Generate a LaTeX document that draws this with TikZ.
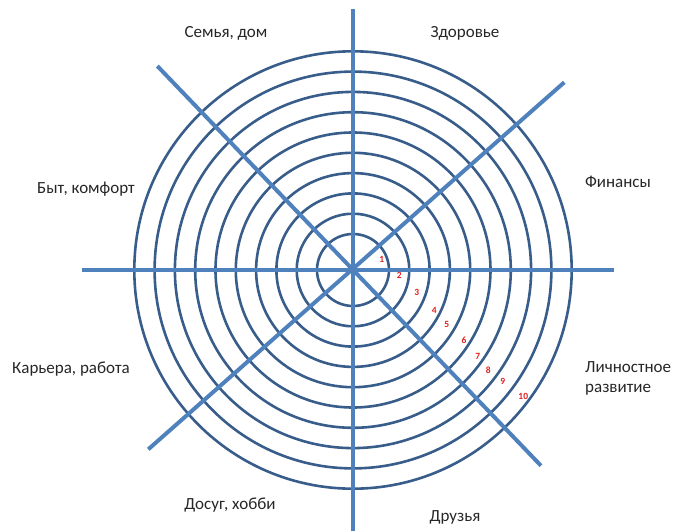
\documentclass[tikz,border=0pt]{standalone}
\usepackage{fontspec}
\setmainfont{Carlito}
\usepackage{tikz}
\definecolor{cSpoke}{HTML}{4F81BD}
\definecolor{cRing}{HTML}{385D8A}
\definecolor{cNum}{HTML}{E02020}
\tikzset{
  spoke/.style   = {draw=cSpoke, line width=4pt},
  ring/.style    = {draw=cRing, line width=2.6pt},
  sector/.style  = {font=\fontsize{17}{20}\selectfont, text=black!85, inner sep=0pt},
  numlab/.style  = {font=\fontsize{9.5}{10}\selectfont\bfseries, text=cNum, inner sep=0pt},
}
\begin{document}
\begin{tikzpicture}[x=1pt, y=1pt]
  % ---- frame (image is 675 x 531, centre of wheel at 353,270) ----
  \useasboundingbox (-353,-261) rectangle (322,270);
  \coordinate (c) at (0,0);

  % ---- rings ----
  \foreach \k in {0,...,9}
    \draw[ring] (c) circle[radius={36pt+20.3pt*\k}];

  % ---- spokes ----
  \coordinate (top)   at (0,261);
  \coordinate (bot)   at (0,-261);
  \coordinate (lft)   at (-271,0);
  \coordinate (rgt)   at (261,0);
  \coordinate (ul)    at (-195.7,204);
  \coordinate (lr)    at (188,-195.7);
  \coordinate (ur)    at (211.3,187.7);
  \coordinate (ll)    at (-204.7,-179.3);
  \draw[spoke] (top) -- (bot);
  \draw[spoke] (lft) -- (rgt);
  \draw[spoke] (ul) -- (lr);
  \draw[spoke] (ur) -- (ll);

  % ---- scale numbers ----
  \foreach \n/\px/\py in {1/28.7/11, 2/46.3/-5.7, 3/63.7/-22.7, 4/81.3/-40.7,
                          5/93.7/-54, 6/111/-70, 7/124.7/-86.7, 8/135.3/-100.7,
                          9/149.7/-111.7, 10/170.3/-126.7}
    \node[numlab] (n\n) at (\px,\py) {\n};

  % ---- sectors ----
  \node[sector] (family)  at (-127,237)  {Семья, дом};
  \node[sector] (health)  at (112,237)   {Здоровье};
  \node[sector] (comfort) at (-267,81)   {Быт, комфорт};
  \node[sector] (money)   at (265,88)    {Финансы};
  \node[sector] (career)  at (-282,-99)  {Карьера, работа};
  \node[sector, anchor=west, align=left] (growth) at (232,-108)
    {Личностное\\развитие};
  \node[sector] (hobby)   at (-123,-235) {Досуг, хобби};
  \node[sector] (friends) at (102,-247)  {Друзья};
\end{tikzpicture}
\end{document}
